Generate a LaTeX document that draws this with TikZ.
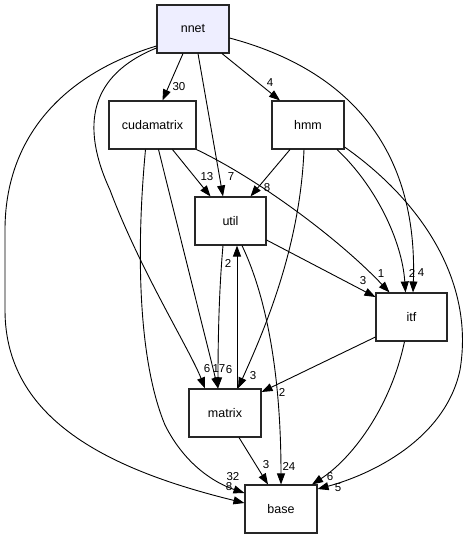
\documentclass[tikz,border=0pt]{standalone}
\usepackage{fontspec}
\setmainfont{Liberation Sans}
\usetikzlibrary{arrows.meta,calc}
\definecolor{nnetfill}{HTML}{EEEEFF}
\tikzset{
  dirbox/.style={draw=black!85, line width=1.1pt, fill=white, minimum width=72pt, minimum height=48pt, inner sep=0pt, font=\fontsize{12.5}{14}\selectfont},
  edge/.style={line width=0.9pt, -{Triangle[length=11pt,width=8pt]}},
  elabel/.style={inner sep=0pt, font=\fontsize{11.5}{13}\selectfont}
}
\begin{document}
\begin{tikzpicture}[x=1pt,y=-1pt]
\useasboundingbox (0,0) rectangle (470,539);
% nodes
\node[dirbox, fill=nnetfill] (nnet) at (193,29) {nnet};
\node[dirbox, minimum width=87pt] (cudamatrix) at (152.5,125) {cudamatrix};
\node[dirbox] (hmm) at (308,125) {hmm};
\node[dirbox, minimum width=71pt] (util) at (230.5,221) {util};
\node[dirbox, minimum width=71pt] (itf) at (411.5,317) {itf};
\node[dirbox] (matrix) at (225,413) {matrix};
\node[dirbox] (base) at (281,509) {base};
% edges
\draw[edge] ($(nnet.south)+(-10,0)$) -- ($(cudamatrix.north)+(10,0)$);
\draw[edge] ($(nnet.south)+(29,0)$) -- ($(hmm.north)+(-28,0)$);
\draw[edge] ($(nnet.south)+(5,0)$) -- ($(util.north)+(-7.5,0)$);
\draw[edge] ($(nnet.east)+(0,9)$) .. controls (350,70) and (418,150) .. ($(itf.north)+(1.5,0)$);
\draw[edge] ($(nnet.west)+(0,19)$) .. controls (90,75) and (80,125) .. (110,190) .. controls (140,270) and (190,350) .. ($(matrix.north)+(-20,0)$);
\draw[edge] ($(nnet.west)+(0,17)$) .. controls (60,75) and (5,140) .. (5,230) -- (5,310) .. controls (5,420) and (110,470) .. ($(base.west)+(0,-6)$);
\draw[edge] ($(cudamatrix.south)+(20,0)$) -- ($(util.north)+(-20,0)$);
\draw[edge] (cudamatrix.south east) .. controls (260,180) and (340,240) .. ($(itf.north)+(-22,0)$);
\draw[edge] ($(cudamatrix.south)+(6,0)$) -- ($(matrix.north)+(-7,0)$);
\draw[edge] ($(cudamatrix.south)+(-7,0)$) .. controls (136,250) and (138,360) .. (165,425) .. controls (185,465) and (215,483) .. ($(base.west)+(0,-16)$);
\draw[edge] ($(hmm.south)+(-18,0)$) -- ($(util.north)+(20,0)$);
\draw[edge] ($(hmm.south)+(-4,0)$) .. controls (300,250) and (262,335) .. ($(matrix.north)+(13,0)$);
\draw[edge] ($(hmm.south)+(29,0)$) .. controls (375,185) and (402,240) .. ($(itf.north)+(-6,0)$);
\draw[edge] ($(hmm.east)+(0,22)$) .. controls (420,200) and (475,280) .. (460,370) .. controls (445,440) and (370,475) .. ($(base.east)+(0,-20)$);
\draw[edge] ($(util.east)+(0,19)$) -- ($(itf.west)+(0,-20)$);
\draw[edge] ($(util.south)+(-7.5,0)$) .. controls (219,290) and (218,340) .. ($(matrix.north)+(-7,0)$);
\draw[edge] ($(util.south)+(11.5,0)$) .. controls (268,300) and (281,380) .. (base.north);
\draw[edge] ($(matrix.north)+(12,0)$) -- ($(util.south)+(6.5,0)$);
\draw[edge] ($(itf.west)+(0,20)$) -- ($(matrix.east)+(0,-21)$);
\draw[edge] ($(itf.south)+(-7,0)$) .. controls (390,410) and (350,460) .. ($(base.north)+(31,0)$);
\draw[edge] ($(matrix.south)+(14,0)$) -- ($(base.north)+(-13,0)$);
% labels
\node[elabel] (l1) at (179,87) {30};
\node[elabel] (l2) at (270,83) {4};
\node[elabel] (l3) at (231,177) {7};
\node[elabel] (l4) at (421,273) {4};
\node[elabel] (l5) at (207,369) {6};
\node[elabel] (l6) at (229,487) {8};
\node[elabel] (l7) at (207,177) {13};
\node[elabel] (l8) at (381,274) {1};
\node[elabel] (l9) at (219,369) {17};
\node[elabel] (l10) at (233,477) {32};
\node[elabel] (l11) at (267,188) {8};
\node[elabel] (l12) at (253,376) {3};
\node[elabel] (l13) at (412,273) {2};
\node[elabel] (l14) at (338,488) {5};
\node[elabel] (l15) at (363,281) {3};
\node[elabel] (l16) at (229,370) {6};
\node[elabel] (l17) at (289,466) {24};
\node[elabel] (l18) at (228,263) {2};
\node[elabel] (l19) at (282,392) {2};
\node[elabel] (l20) at (330,477) {6};
\node[elabel] (l21) at (266,465) {3};
\end{tikzpicture}
\end{document}
